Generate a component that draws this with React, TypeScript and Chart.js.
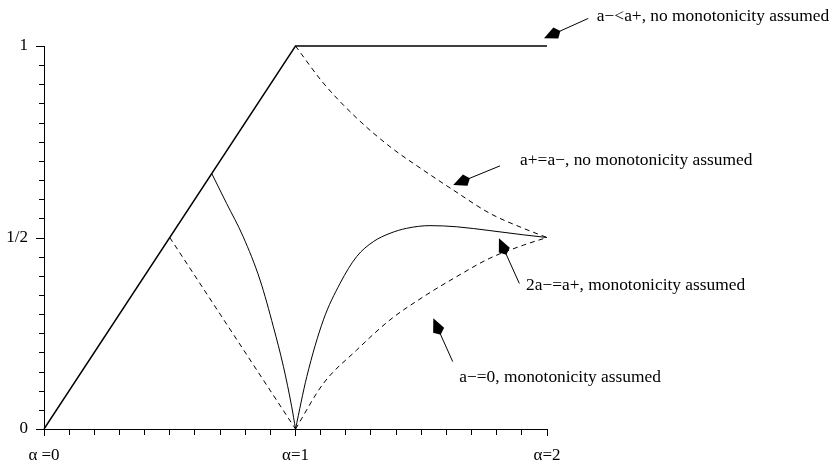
import React, { useEffect, useRef } from "react";
import { Chart, registerables } from "chart.js";

Chart.register(...registerables);

// ---- data ----
const X_TICK_LABELS: Record<string, string> = { "0": "α =0", "1": "α=1", "2": "α=2" };
const Y_TICK_LABELS: Record<string, string> = { "0": "0", "0.5": "1/2", "1": "1" };
const Y_TICK_STEP = 0.05;
const X_TICK_STEP = 0.1;

const ENVELOPE_X = [0, 1, 2];
const ENVELOPE_Y = [0, 1, 1];

const LEFT_DASHED_X = [0.5, 1];
const LEFT_DASHED_Y = [0.5, 0];

const LEFT_SOLID_X = [0.667, 0.726, 0.792, 0.859, 0.912, 0.952, 0.985, 1];
const LEFT_SOLID_Y = [0.667, 0.589, 0.502, 0.389, 0.267, 0.163, 0.058, 0];

const UPPER_DASHED_X = [1, 1.111, 1.243, 1.376, 1.508, 1.627, 1.773, 1.906, 2];
const UPPER_DASHED_Y = [1, 0.903, 0.812, 0.737, 0.676, 0.624, 0.563, 0.524, 0.5];

const RIGHT_SOLID_X = [1, 1.045, 1.111, 1.177, 1.243, 1.309, 1.376, 1.442, 1.535, 1.641, 1.773, 1.906, 2];
const RIGHT_SOLID_Y = [0, 0.137, 0.285, 0.38, 0.45, 0.489, 0.511, 0.524, 0.531, 0.528, 0.518, 0.507, 0.5];

const LOWER_DASHED_X = [1, 1.111, 1.243, 1.376, 1.508, 1.641, 1.773, 1.906, 2];
const LOWER_DASHED_Y = [0, 0.119, 0.206, 0.285, 0.345, 0.398, 0.446, 0.48, 0.5];

// annotation texts and their anchor points (data units)
const NOTE_TEXTS = [
  "a\u2212<a+, no monotonicity assumed",
  "a+=a\u2212, no monotonicity assumed",
  "2a\u2212=a+, monotonicity assumed",
  "a\u2212=0, monotonicity assumed",
];
const NOTE_TIP_X = [1.988, 1.627, 1.809, 1.548];
const NOTE_TIP_Y = [1.02, 0.637, 0.498, 0.289];
const NOTE_TAIL_X = [2.164, 1.813, 1.89, 1.625];
const NOTE_TAIL_Y = [1.072, 0.687, 0.38, 0.176];
const NOTE_TEXT_X = [2.198, 1.893, 1.9165, 1.651];
const NOTE_TEXT_Y = [1.0765, 0.7005, 0.376, 0.135];

const FONT_FAMILY = "'Liberation Serif', 'Times New Roman', serif";

const pts = (xs: number[], ys: number[]) => xs.map((x, i) => ({ x, y: ys[i] }));
const keyOf = (v: number) => String(Math.round(v * 1000) / 1000);
const isYMajor = (v: number) => Y_TICK_LABELS[keyOf(v)] !== undefined;
const isXMajor = (v: number) => X_TICK_LABELS[keyOf(v)] !== undefined;

// y-axis tick marks, placed through the y scale
const yTickPlugin = {
  id: "yTicks",
  afterDraw(chart: any) {
    const { ctx } = chart;
    const sy = chart.scales.y;
    ctx.save();
    ctx.strokeStyle = "#000";
    ctx.lineWidth = 1;
    ctx.setLineDash([]);
    const axisX = Math.round(sy.right);
    const n = Math.round((sy.max - sy.min) / Y_TICK_STEP);
    for (let k = 0; k <= n; k++) {
      const v = sy.min + k * Y_TICK_STEP;
      const py = Math.round(sy.getPixelForValue(v)) + 0.5;
      const len = isYMajor(v) ? 8 : 5;
      ctx.beginPath();
      ctx.moveTo(axisX - len, py);
      ctx.lineTo(axisX + 0.5, py);
      ctx.stroke();
    }
    ctx.restore();
  },
};

const annotationPlugin = {
  id: "notes",
  afterDatasetsDraw(chart: any) {
    const { ctx, scales } = chart;
    const sx = scales.x;
    const sy = scales.y;
    ctx.save();
    ctx.fillStyle = "#000";
    ctx.strokeStyle = "#000";
    ctx.lineWidth = 1;
    ctx.setLineDash([]);
    for (let i = 0; i < NOTE_TEXTS.length; i++) {
      const tx = sx.getPixelForValue(NOTE_TIP_X[i]);
      const ty = sy.getPixelForValue(NOTE_TIP_Y[i]);
      const ax = sx.getPixelForValue(NOTE_TAIL_X[i]);
      const ay = sy.getPixelForValue(NOTE_TAIL_Y[i]);
      const dx = tx - ax;
      const dy = ty - ay;
      const len = Math.hypot(dx, dy);
      const ux = dx / len;
      const uy = dy / len;
      const nx = -uy;
      const ny = ux;
      const L = 18;
      const W = 6;
      const back = 13;
      ctx.beginPath();
      ctx.moveTo(ax, ay);
      ctx.lineTo(tx - ux * (L - 2), ty - uy * (L - 2));
      ctx.stroke();
      ctx.beginPath();
      ctx.moveTo(tx, ty);
      ctx.lineTo(tx - ux * back + nx * W, ty - uy * back + ny * W);
      ctx.lineTo(tx - ux * L, ty - uy * L);
      ctx.lineTo(tx - ux * back - nx * W, ty - uy * back - ny * W);
      ctx.closePath();
      ctx.fill();
      ctx.font = `17.4px ${FONT_FAMILY}`;
      ctx.textAlign = "left";
      ctx.textBaseline = "middle";
      ctx.fillText(
        NOTE_TEXTS[i],
        sx.getPixelForValue(NOTE_TEXT_X[i]),
        sy.getPixelForValue(NOTE_TEXT_Y[i])
      );
    }
    ctx.restore();
  },
};

export default function App() {
  const ref = useRef<HTMLCanvasElement | null>(null);

  useEffect(() => {
    if (!ref.current) return;
    Chart.defaults.font.family = FONT_FAMILY;
    const line = (xs: number[], ys: number[], dash: number[], width: number, smooth: boolean) => ({
      data: pts(xs, ys),
      borderColor: "#000",
      backgroundColor: "#000",
      borderWidth: width,
      borderDash: dash,
      pointRadius: 0,
      fill: false,
      clip: false as any,
      cubicInterpolationMode: smooth ? ("monotone" as const) : ("default" as const),
      tension: 0,
    });
    const chart = new Chart(ref.current, {
      type: "line",
      data: {
        datasets: [
          line(ENVELOPE_X, ENVELOPE_Y, [], 1.4, false),
          line(LEFT_DASHED_X, LEFT_DASHED_Y, [5, 4], 1, false),
          line(LEFT_SOLID_X, LEFT_SOLID_Y, [], 1, true),
          line(UPPER_DASHED_X, UPPER_DASHED_Y, [5, 4], 1, true),
          line(RIGHT_SOLID_X, RIGHT_SOLID_Y, [], 1, true),
          line(LOWER_DASHED_X, LOWER_DASHED_Y, [5, 4], 1, true),
        ] as any,
      },
      options: {
        animation: false,
        responsive: false,
        layout: { padding: { top: 46, right: 285, left: 0, bottom: 0 } },
        plugins: { legend: { display: false }, tooltip: { enabled: false } },
        scales: {
          x: {
            type: "linear",
            min: 0,
            max: 2,
            position: "bottom",
            afterFit: (s: any) => {
              s.height = 35;
            },
            border: { display: true, color: "#000", width: 1 },
            grid: {
              drawOnChartArea: false,
              drawTicks: true,
              tickLength: 7,
              tickColor: "#000",
              tickWidth: 1,
              tickBorderDash: (c: any) => (c.tick && isXMajor(c.tick.value) ? [] : [5, 100]),
            },
            ticks: {
              stepSize: X_TICK_STEP,
              autoSkip: false,
              maxRotation: 0,
              color: "#000",
              padding: 9,
              font: { size: 17, family: FONT_FAMILY },
              callback: (v: any) => X_TICK_LABELS[keyOf(Number(v))] ?? "",
            },
          },
          y: {
            type: "linear",
            min: 0,
            max: 1,
            afterFit: (s: any) => {
              s.width = 44;
            },
            border: { display: true, color: "#000", width: 1 },
            grid: {
              drawOnChartArea: false,
              drawTicks: true,
              tickLength: 8,
              tickWidth: 1,
              tickColor: "rgba(0,0,0,0)",
            },
            ticks: {
              stepSize: Y_TICK_STEP,
              autoSkip: false,
              color: "#000",
              padding: 8,
              font: { size: 17, family: FONT_FAMILY },
              callback: (v: any) => Y_TICK_LABELS[keyOf(Number(v))] ?? "",
            },
          },
        },
      },
      plugins: [annotationPlugin, yTickPlugin],
    });
    return () => chart.destroy();
  }, []);

  return (
    <div style={{ position: "fixed", left: 0, top: 0, width: 832, height: 464, background: "#fff" }}>
      <canvas ref={ref} width={832} height={464} style={{ width: 832, height: 464, display: "block" }} />
    </div>
  );
}
